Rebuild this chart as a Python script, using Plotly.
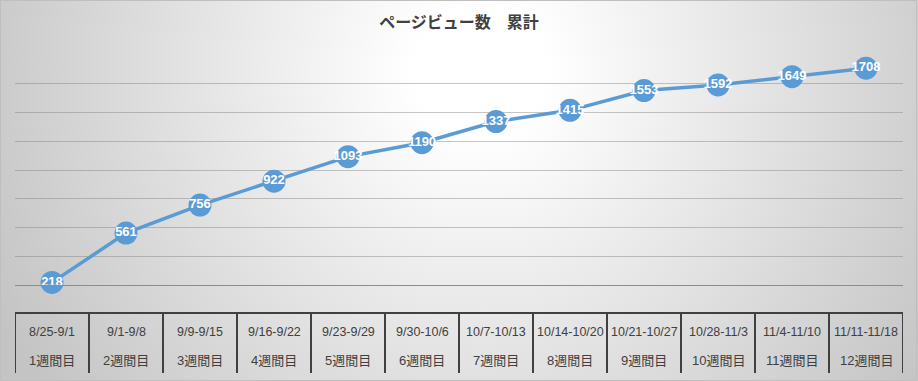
import base64
import plotly.graph_objects as go

# ---- data ----
title_text = "ページビュー数　累計"
date_ranges = ["8/25-9/1", "9/1-9/8", "9/9-9/15", "9/16-9/22", "9/23-9/29", "9/30-10/6",
               "10/7-10/13", "10/14-10/20", "10/21-10/27", "10/28-11/3", "11/4-11/10", "11/11-11/18"]
weeks = ["1週間目", "2週間目", "3週間目", "4週間目", "5週間目", "6週間目",
         "7週間目", "8週間目", "9週間目", "10週間目", "11週間目", "12週間目"]
cumulative_views = [218, 561, 756, 922, 1093, 1190, 1337, 1415, 1553, 1592, 1649, 1708]

# ---- layout geometry ----
W, H = 918, 381
ML, MR, MT, MB = 15, 15, 55, 96
PW, PH = W - ML - MR, H - MT - MB

def py(pix):  # pixel y (from top) -> paper y
    return (H - MB - pix) / PH

# radial gradient background as svg image
svg = f'''<svg xmlns="http://www.w3.org/2000/svg" width="{W}" height="{H}" viewBox="0 0 {W} {H}" preserveAspectRatio="none">
<defs><radialGradient id="g" gradientUnits="userSpaceOnUse" cx="480" cy="70" r="540">
<stop offset="0" stop-color="#ffffff"/><stop offset="0.12" stop-color="#ffffff"/><stop offset="1" stop-color="#c4c4c4"/>
</radialGradient></defs><rect width="{W}" height="{H}" fill="url(#g)"/></svg>'''
bg_src = "data:image/svg+xml;base64," + base64.b64encode(svg.encode()).decode()

fig = go.Figure()
fig.add_trace(go.Scatter(
    x=weeks, y=cumulative_views, mode="lines+markers+text",
    line=dict(color="#5b9bd5", width=3.5),
    marker=dict(size=23, color="#5b9bd5"),
    text=[str(v) for v in cumulative_views], textposition="middle center",
    textfont=dict(color="white", size=13, family="Liberation Sans, Arial", weight="bold"),
    cliponaxis=False, hoverinfo="skip", showlegend=False,
))

shapes = []
table_top, table_bot = py(313), py(373)
shapes.append(dict(type="line", xref="x", yref="paper", x0=-0.5, x1=len(weeks) - 0.5,
                   y0=table_top, y1=table_top, line=dict(color="#404040", width=2)))
for i in range(len(weeks) + 1):
    shapes.append(dict(type="line", xref="x", yref="paper", x0=i - 0.5, x1=i - 0.5,
                       y0=table_top, y1=table_bot, line=dict(color="#404040", width=2)))
# chart border
shapes.append(dict(type="rect", xref="paper", yref="paper",
                   x0=-ML / PW + 0.5 / PW, x1=1 + (MR - 1.5) / PW,
                   y0=-(MB - 0.5) / PH, y1=1 + (MT - 0.5) / PH,
                   line=dict(color="#bfbfbf", width=1)))

annotations = []
for i, (d, w) in enumerate(zip(date_ranges, weeks)):
    annotations.append(dict(x=i, y=py(332), xref="x", yref="paper", text=d, showarrow=False,
                            font=dict(family="Liberation Sans, Noto Sans CJK JP", size=12.5, color="#404040"),
                            xanchor="center", yanchor="middle"))
    annotations.append(dict(x=i, y=py(361), xref="x", yref="paper", text=w, showarrow=False,
                            font=dict(family="Liberation Sans, Noto Sans CJK JP", size=13, color="#404040"),
                            xanchor="center", yanchor="middle"))

fig.update_layout(
    width=W, height=H,
    margin=dict(l=ML, r=MR, t=MT, b=MB),
    paper_bgcolor="#d0d0d0", plot_bgcolor="rgba(0,0,0,0)",
    title=dict(text=title_text, x=0.5, xanchor="center", xref="container",
               y=1 - 22 / H, yanchor="middle", yref="container",
               font=dict(family="Noto Sans CJK JP", size=16, color="#404040", weight="bold")),
    images=[dict(source=bg_src, xref="paper", yref="paper",
                 x=-ML / PW, y=1 + MT / PH, sizex=W / PW, sizey=H / PH,
                 sizing="stretch", layer="below", xanchor="left", yanchor="top")],
    xaxis=dict(type="category", range=[-0.5, len(weeks) - 0.5], showticklabels=False,
               showgrid=False, zeroline=False, showline=True, linecolor="#8c8c8c", linewidth=1,
               ticks="", fixedrange=True),
    yaxis=dict(range=[200, 1800], dtick=200, showticklabels=False, showgrid=True,
               gridcolor="rgba(128,128,128,0.45)", gridwidth=1, zeroline=False, showline=False,
               ticks="", fixedrange=True),
    shapes=shapes, annotations=annotations,
)

fig.write_html("out.html", config={"displayModeBar": False},
               post_script="document.body.style.margin='0';document.body.style.overflow='hidden';")
